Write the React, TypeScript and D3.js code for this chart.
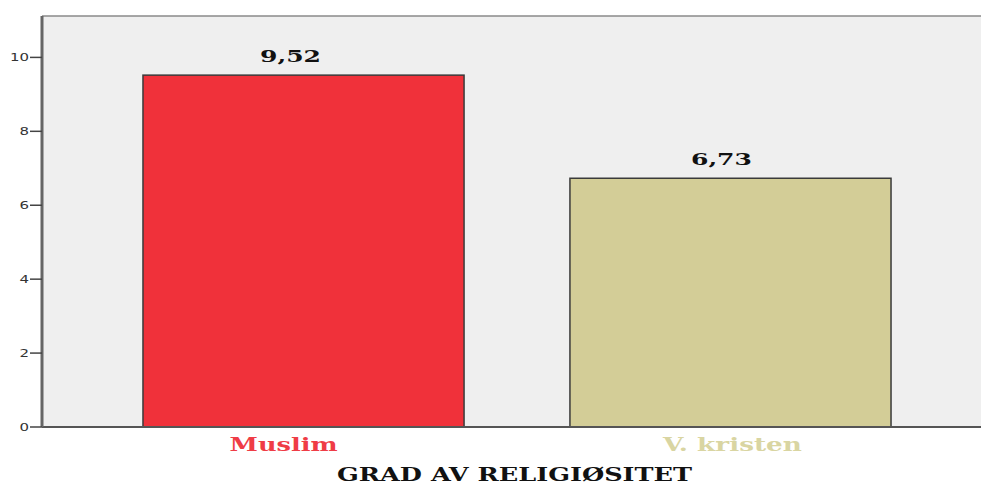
import React from "react";
import * as d3 from "d3";

const categories = ["Muslim", "V. kristen"];
const values = [9.52, 6.73];
const valueLabels = ["9,52", "6,73"];
const barColors = ["#f0313a", "#d3cd97"];
const labelColors = ["#ef3c46", "#d9d5a2"];
const yTicks = [0, 2, 4, 6, 8, 10];
const xTitle = "GRAD AV RELIGIØSITET";

// the original's text is stretched sideways and sits a bit off the bar centres
const catLabelDx = [-20, 2];
const catLabelW = [108, 139];
const valLabelDx = [-13, -9];

const W = 981;
const H = 486;
const margin = { top: 16, right: -11, bottom: 59, left: 42 };

export default function App() {
  const innerW = W - margin.left - margin.right;
  const innerH = H - margin.top - margin.bottom;

  const x = d3
    .scaleBand<string>()
    .domain(categories)
    .range([0, innerW])
    .paddingInner(0.248)
    .paddingOuter(0.2365);
  const y = d3.scaleLinear().domain([0, 11.12]).range([innerH, 0]);

  const serif = "'DejaVu Serif', serif";

  return (
    <svg
      width={W}
      height={H}
      style={{ position: "absolute", left: 0, top: 0, background: "#fff" }}
    >
      <g transform={`translate(${margin.left},${margin.top})`}>
        <rect x={0} y={0} width={innerW} height={innerH} fill="#efefef" />
        <line x1={0} x2={innerW} y1={0} y2={0} stroke="#8a8a8a" strokeWidth={1.5} />
        {categories.map((c, i) => {
          const cx = (x(c) ?? 0) + x.bandwidth() / 2;
          return (
            <g key={c}>
              <rect
                x={x(c)}
                y={y(values[i])}
                width={x.bandwidth()}
                height={innerH - y(values[i])}
                fill={barColors[i]}
                stroke="#3a3a3a"
                strokeWidth={1.5}
              />
              <text
                x={cx + valLabelDx[i]}
                y={y(values[i]) - 13}
                textAnchor="middle"
                fontFamily={serif}
                fontWeight="bold"
                fontSize={17.5}
                fill="#111"
                textLength={61}
                lengthAdjust="spacingAndGlyphs"
              >
                {valueLabels[i]}
              </text>
              <text
                x={cx + catLabelDx[i]}
                y={innerH + 24}
                textAnchor="middle"
                fontFamily={serif}
                fontWeight="bold"
                fontSize={18}
                fill={labelColors[i]}
                textLength={catLabelW[i]}
                lengthAdjust="spacingAndGlyphs"
              >
                {c}
              </text>
            </g>
          );
        })}
        <line x1={0} x2={innerW} y1={innerH} y2={innerH} stroke="#555" strokeWidth={2} />
        <line x1={0} x2={0} y1={0} y2={innerH} stroke="#666" strokeWidth={3} />
        {yTicks.map((t) => (
          <g key={t} transform={`translate(0,${y(t)})`}>
            <line x1={-12} x2={0} stroke="#444" strokeWidth={1.5} />
            <text
              x={-13}
              dy="0.35em"
              textAnchor="end"
              fontFamily="'DejaVu Sans', sans-serif"
              fontSize={11}
              fill="#333"
              textLength={String(t).length * 9.5}
              lengthAdjust="spacingAndGlyphs"
            >
              {t}
            </text>
          </g>
        ))}
        <text
          x={472.5}
          y={innerH + 54}
          textAnchor="middle"
          fontFamily={serif}
          fontWeight="bold"
          fontSize={18}
          fill="#111"
          textLength={355}
          lengthAdjust="spacingAndGlyphs"
        >
          {xTitle}
        </text>
      </g>
    </svg>
  );
}
